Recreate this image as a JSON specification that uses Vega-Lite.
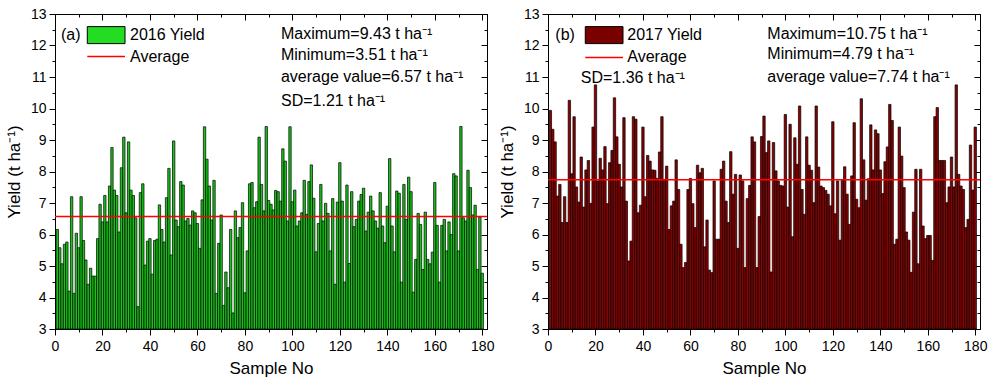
{
"$schema": "https://vega.github.io/schema/vega-lite/v6.json",
"padding": {"left": 4, "top": 6, "right": 5, "bottom": 2},
"spacing": 2,
"config": {
  "font": "Liberation Sans",
  "view": {"stroke": "#000", "strokeWidth": 1},
  "axis": {"domainColor": "#000", "domainWidth": 1, "tickColor": "#000", "tickWidth": 1, "labelColor": "#000", "titleColor": "#000", "grid": false, "labelFont": "Liberation Sans", "titleFont": "Liberation Sans", "titleFontWeight": "normal", "labelFontSize": 14, "titleFontSize": 17},
  "text": {"font": "Liberation Sans", "fontSize": 16, "align": "left", "baseline": "middle", "color": "#000"}
},
"hconcat": [
{
  "width": 432, "height": 315,
  "resolve": {"axis": {"x": "independent", "y": "independent"}},
  "layer": [
    {
      "data": {"values": [
{"s":1,"v":6.16},{"s":2,"v":5.58},{"s":3,"v":5.07},{"s":4,"v":5.69},{"s":5,"v":5.76},{"s":6,"v":4.2},{"s":7,"v":7.2},{"s":8,"v":4.13},{"s":9,"v":6.04},{"s":10,"v":5.58},
{"s":11,"v":7.2},{"s":12,"v":5.81},{"s":13,"v":5.19},{"s":14,"v":4.42},{"s":15,"v":4.93},{"s":16,"v":4.68},{"s":17,"v":4.68},{"s":18,"v":5.87},{"s":19,"v":6.96},{"s":20,"v":6.4},
{"s":21,"v":7.24},{"s":22,"v":6.4},{"s":23,"v":7.54},{"s":24,"v":8.76},{"s":25,"v":7.41},{"s":26,"v":7.24},{"s":27,"v":6.08},{"s":28,"v":8.12},{"s":29,"v":9.09},{"s":30,"v":6.69},
{"s":31,"v":8.94},{"s":32,"v":7.41},{"s":33,"v":7.24},{"s":34,"v":6.53},{"s":35,"v":3.71},{"s":36,"v":7.33},{"s":37,"v":7.61},{"s":38,"v":5.03},{"s":39,"v":5.79},{"s":40,"v":5.87},
{"s":41,"v":4.74},{"s":42,"v":5.81},{"s":43,"v":5.85},{"s":44,"v":6.94},{"s":45,"v":6.16},{"s":46,"v":5.76},{"s":47,"v":7.17},{"s":48,"v":8.1},{"s":49,"v":5.35},{"s":50,"v":8.97},
{"s":51,"v":6.46},{"s":52,"v":6.25},{"s":53,"v":7.68},{"s":54,"v":7.57},{"s":55,"v":6.43},{"s":56,"v":6.51},{"s":57,"v":6.3},{"s":58,"v":6.75},{"s":59,"v":6.69},{"s":60,"v":6.35},
{"s":61,"v":5.56},{"s":62,"v":7.1},{"s":63,"v":9.42},{"s":64,"v":8.39},{"s":65,"v":7.54},{"s":66,"v":6.46},{"s":67,"v":7.72},{"s":68,"v":4.13},{"s":69,"v":5.72},{"s":70,"v":6.62},
{"s":71,"v":3.75},{"s":72,"v":4.81},{"s":73,"v":4.31},{"s":74,"v":6.16},{"s":75,"v":3.51},{"s":76,"v":6.75},{"s":77,"v":5.9},{"s":78,"v":6.22},{"s":79,"v":7.01},{"s":80,"v":4.15},
{"s":81,"v":5.48},{"s":82,"v":7.61},{"s":83,"v":7.65},{"s":84,"v":6.85},{"s":85,"v":7.04},{"s":86,"v":9.09},{"s":87,"v":7.59},{"s":88,"v":6.75},{"s":89,"v":9.43},{"s":90,"v":7.08},
{"s":91,"v":6.96},{"s":92,"v":6.78},{"s":93,"v":7.4},{"s":94,"v":7.36},{"s":95,"v":7.06},{"s":96,"v":8.72},{"s":97,"v":8.33},{"s":98,"v":6.43},{"s":99,"v":9.42},{"s":100,"v":7.04},
{"s":101,"v":7.41},{"s":102,"v":6.27},{"s":103,"v":6.43},{"s":104,"v":6.69},{"s":105,"v":7.72},{"s":106,"v":6.64},{"s":107,"v":7.68},{"s":108,"v":8.21},{"s":109,"v":7.15},{"s":110,"v":5.45},
{"s":111,"v":6.35},{"s":112,"v":7.59},{"s":113,"v":6.43},{"s":114,"v":6.99},{"s":115,"v":6.67},{"s":116,"v":5.48},{"s":117,"v":7.14},{"s":118,"v":4.42},{"s":119,"v":7.03},{"s":120,"v":8.28},
{"s":121,"v":7.06},{"s":122,"v":4.49},{"s":123,"v":7.57},{"s":124,"v":5.08},{"s":125,"v":7.36},{"s":126,"v":6.25},{"s":127,"v":6.48},{"s":128,"v":7.06},{"s":129,"v":7.27},{"s":130,"v":7.47},
{"s":131,"v":6.11},{"s":132,"v":6.71},{"s":133,"v":7.22},{"s":134,"v":6.75},{"s":135,"v":6.43},{"s":136,"v":6.2},{"s":137,"v":7.33},{"s":138,"v":6.27},{"s":139,"v":5.74},{"s":140,"v":6.9},
{"s":141,"v":8.41},{"s":142,"v":6.27},{"s":143,"v":5.45},{"s":144,"v":7.38},{"s":145,"v":7.31},{"s":146,"v":4.49},{"s":147,"v":7.59},{"s":148,"v":6.48},{"s":149,"v":7.82},{"s":150,"v":7.36},
{"s":151,"v":4.17},{"s":152,"v":5.21},{"s":153,"v":6.67},{"s":154,"v":6.32},{"s":155,"v":4.89},{"s":156,"v":6.71},{"s":157,"v":5.21},{"s":158,"v":5.07},{"s":159,"v":5.44},{"s":160,"v":7.65},
{"s":161,"v":6.29},{"s":162,"v":4.49},{"s":163,"v":6.29},{"s":164,"v":6.48},{"s":165,"v":5.48},{"s":166,"v":6.4},{"s":167,"v":6.0},{"s":168,"v":7.93},{"s":169,"v":7.86},{"s":170,"v":5.48},
{"s":171,"v":9.43},{"s":172,"v":6.53},{"s":173,"v":6.43},{"s":174,"v":8.04},{"s":175,"v":7.49},{"s":176,"v":6.62},{"s":177,"v":6.93},{"s":178,"v":4.89},{"s":179,"v":6.56},{"s":180,"v":4.77}
      ]},
      "mark": {"type": "bar", "width": 2.37, "fill": "#19c419", "stroke": "#000", "strokeWidth": 0.7},
      "encoding": {
        "x": {"field": "s", "type": "quantitative", "scale": {"domain": [0, 182], "nice": false, "zero": false, "padding": 0},
              "axis": {"orient": "bottom", "values": [0,10,20,30,40,50,60,70,80,90,100,110,120,130,140,150,160,170,180], "labelExpr": "datum.value % 20 === 0 ? format(datum.value, 'd') : ''", "labelOverlap": false, "labelFlush": false, "tickSize": {"condition": {"test": "datum.value % 20 !== 0", "value": 3}, "value": 6}, "labelPadding": 4, "title": "Sample No", "titlePadding": 7}},
        "y": {"field": "v", "type": "quantitative", "scale": {"domain": [3, 13], "nice": false, "zero": false},
              "axis": {"orient": "left", "values": [3,3.5,4,4.5,5,5.5,6,6.5,7,7.5,8,8.5,9,9.5,10,10.5,11,11.5,12,12.5,13], "labelExpr": "datum.value % 1 === 0 ? format(datum.value, 'd') : ''", "labelOverlap": false, "labelFlush": false, "tickSize": {"condition": {"test": "datum.value % 1 !== 0", "value": 3}, "value": 6}, "labelPadding": 3, "title": "Yield (t ha⁻¹)", "titlePadding": 7}},
        "y2": {"datum": 3}
      }
    },
    {
      "data": {"values": [{"avg": 6.57}]},
      "mark": {"type": "rule", "color": "#ff0000", "strokeWidth": 1.5},
      "encoding": {
        "y": {"field": "avg", "type": "quantitative", "axis": {"orient": "right", "values": [3,3.5,4,4.5,5,5.5,6,6.5,7,7.5,8,8.5,9,9.5,10,10.5,11,11.5,12,12.5,13], "labels": false, "title": null, "tickSize": {"condition": {"test": "datum.value % 1 !== 0", "value": -3}, "value": -6}}},
        "x": {"datum": 0, "type": "quantitative", "axis": {"orient": "top", "values": [0,10,20,30,40,50,60,70,80,90,100,110,120,130,140,150,160,170,180], "labels": false, "title": null, "tickSize": {"condition": {"test": "datum.value % 20 !== 0", "value": -3}, "value": -6}}},
        "x2": {"datum": 182}
      }
    },
    {"data": {"values": [{}]}, "mark": {"type": "rect", "fill": "#22dd22", "stroke": "#000", "strokeWidth": 1},
     "encoding": {"x": {"datum": 13.6, "type": "quantitative", "axis": null}, "x2": {"datum": 29.5}, "y": {"datum": 12.6, "type": "quantitative", "axis": null}, "y2": {"datum": 12.06}}},
    {"data": {"values": [{}]}, "mark": {"type": "rule", "color": "#ff0000", "strokeWidth": 1.5},
     "encoding": {"x": {"datum": 13.6, "type": "quantitative", "axis": null}, "x2": {"datum": 29.5}, "y": {"datum": 11.65, "type": "quantitative", "axis": null}}},
    {"data": {"values": [{}]}, "mark": {"type": "text"},
     "encoding": {"x": {"datum": 2.5, "type": "quantitative", "axis": null}, "y": {"datum": 12.34, "type": "quantitative", "axis": null}, "text": {"value": "(a)"}}},
    {"data": {"values": [{}]}, "mark": {"type": "text"},
     "encoding": {"x": {"datum": 31.6, "type": "quantitative", "axis": null}, "y": {"datum": 12.34, "type": "quantitative", "axis": null}, "text": {"value": "2016 Yield"}}},
    {"data": {"values": [{}]}, "mark": {"type": "text"},
     "encoding": {"x": {"datum": 31.6, "type": "quantitative", "axis": null}, "y": {"datum": 11.64, "type": "quantitative", "axis": null}, "text": {"value": "Average"}}},
    {"data": {"values": [{}]}, "mark": {"type": "text"},
     "encoding": {"x": {"datum": 95.2, "type": "quantitative", "axis": null}, "y": {"datum": 12.37, "type": "quantitative", "axis": null}, "text": {"value": "Maximum=9.43 t ha⁻¹"}}},
    {"data": {"values": [{}]}, "mark": {"type": "text"},
     "encoding": {"x": {"datum": 95.2, "type": "quantitative", "axis": null}, "y": {"datum": 11.7, "type": "quantitative", "axis": null}, "text": {"value": "Minimum=3.51 t ha⁻¹"}}},
    {"data": {"values": [{}]}, "mark": {"type": "text"},
     "encoding": {"x": {"datum": 95.2, "type": "quantitative", "axis": null}, "y": {"datum": 11.01, "type": "quantitative", "axis": null}, "text": {"value": "average value=6.57 t ha⁻¹"}}},
    {"data": {"values": [{}]}, "mark": {"type": "text"},
     "encoding": {"x": {"datum": 95.2, "type": "quantitative", "axis": null}, "y": {"datum": 10.24, "type": "quantitative", "axis": null}, "text": {"value": "SD=1.21 t ha⁻¹"}}}
  ]
},
{
  "width": 432, "height": 315,
  "resolve": {"axis": {"x": "independent", "y": "independent"}},
  "layer": [
    {
      "data": {"values": [
{"s":1,"v":9.94},{"s":2,"v":9.34},{"s":3,"v":8.94},{"s":4,"v":7.22},{"s":5,"v":7.59},{"s":6,"v":6.38},{"s":7,"v":7.2},{"s":8,"v":6.38},{"s":9,"v":10.26},{"s":10,"v":7.93},
{"s":11,"v":9.74},{"s":12,"v":7.51},{"s":13,"v":7.03},{"s":14,"v":8.46},{"s":15,"v":6.87},{"s":16,"v":8.05},{"s":17,"v":8.35},{"s":18,"v":6.99},{"s":19,"v":9.41},{"s":20,"v":10.75},
{"s":21,"v":7.7},{"s":22,"v":8.42},{"s":23,"v":8.05},{"s":24,"v":8.79},{"s":25,"v":6.98},{"s":26,"v":8.28},{"s":27,"v":8.67},{"s":28,"v":10.34},{"s":29,"v":9.1},{"s":30,"v":8.23},
{"s":31,"v":7.51},{"s":32,"v":9.71},{"s":33,"v":7.06},{"s":34,"v":5.16},{"s":35,"v":5.79},{"s":36,"v":9.74},{"s":37,"v":9.66},{"s":38,"v":6.69},{"s":39,"v":6.93},{"s":40,"v":9.41},
{"s":41,"v":7.2},{"s":42,"v":8.51},{"s":43,"v":8.33},{"s":44,"v":8.05},{"s":45,"v":8.04},{"s":46,"v":7.78},{"s":47,"v":8.62},{"s":48,"v":9.74},{"s":49,"v":7.75},{"s":50,"v":8.17},
{"s":51,"v":6.16},{"s":52,"v":6.91},{"s":53,"v":7.06},{"s":54,"v":8.37},{"s":55,"v":7.43},{"s":56,"v":5.69},{"s":57,"v":4.95},{"s":58,"v":5.11},{"s":59,"v":7.43},{"s":60,"v":7.78},
{"s":61,"v":6.98},{"s":62,"v":6.22},{"s":63,"v":8.2},{"s":64,"v":7.96},{"s":65,"v":8.1},{"s":66,"v":5.61},{"s":67,"v":6.46},{"s":68,"v":4.87},{"s":69,"v":4.79},{"s":70,"v":7.7},
{"s":71,"v":5.85},{"s":72,"v":5.85},{"s":73,"v":8.07},{"s":74,"v":8.33},{"s":75,"v":7.06},{"s":76,"v":6.38},{"s":77,"v":8.63},{"s":78,"v":7.28},{"s":79,"v":7.91},{"s":80,"v":5.56},
{"s":81,"v":7.89},{"s":82,"v":7.7},{"s":83,"v":4.95},{"s":84,"v":7.14},{"s":85,"v":7.56},{"s":86,"v":9.1},{"s":87,"v":8.94},{"s":88,"v":4.95},{"s":89,"v":6.57},{"s":90,"v":9.11},
{"s":91,"v":9.76},{"s":92,"v":8.6},{"s":93,"v":8.97},{"s":94,"v":4.81},{"s":95,"v":8.92},{"s":96,"v":8.02},{"s":97,"v":7.7},{"s":98,"v":7.56},{"s":99,"v":7.54},{"s":100,"v":9.81},
{"s":101,"v":6.87},{"s":102,"v":9.5},{"s":103,"v":5.93},{"s":104,"v":9.07},{"s":105,"v":8.23},{"s":106,"v":10.08},{"s":107,"v":7.43},{"s":108,"v":6.64},{"s":109,"v":9.1},{"s":110,"v":8.2},
{"s":111,"v":8.04},{"s":112,"v":7.01},{"s":113,"v":10.08},{"s":114,"v":8.14},{"s":115,"v":7.54},{"s":116,"v":7.49},{"s":117,"v":7.4},{"s":118,"v":7.28},{"s":119,"v":6.91},{"s":120,"v":9.58},
{"s":121,"v":6.66},{"s":122,"v":7.7},{"s":123,"v":5.82},{"s":124,"v":7.72},{"s":125,"v":8.15},{"s":126,"v":7.28},{"s":127,"v":6.32},{"s":128,"v":7.86},{"s":129,"v":9.55},{"s":130,"v":7.12},
{"s":131,"v":6.85},{"s":132,"v":10.31},{"s":133,"v":8.37},{"s":134,"v":7.09},{"s":135,"v":7.77},{"s":136,"v":9.48},{"s":137,"v":8.05},{"s":138,"v":9.32},{"s":139,"v":9.2},{"s":140,"v":8.05},
{"s":141,"v":7.3},{"s":142,"v":8.31},{"s":143,"v":8.78},{"s":144,"v":10.13},{"s":145,"v":9.62},{"s":146,"v":5.69},{"s":147,"v":5.85},{"s":148,"v":9.41},{"s":149,"v":8.49},{"s":150,"v":7.49},
{"s":151,"v":6.08},{"s":152,"v":5.82},{"s":153,"v":4.8},{"s":154,"v":6.71},{"s":155,"v":8.07},{"s":156,"v":5.07},{"s":157,"v":8.07},{"s":158,"v":6.27},{"s":159,"v":5.87},{"s":160,"v":5.97},
{"s":161,"v":5.97},{"s":162,"v":5.18},{"s":163,"v":9.74},{"s":164,"v":10.03},{"s":165,"v":8.35},{"s":166,"v":8.35},{"s":167,"v":8.35},{"s":168,"v":7.01},{"s":169,"v":7.51},{"s":170,"v":8.46},
{"s":171,"v":7.51},{"s":172,"v":10.75},{"s":173,"v":7.91},{"s":174,"v":7.54},{"s":175,"v":7.43},{"s":176,"v":6.22},{"s":177,"v":6.48},{"s":178,"v":8.84},{"s":179,"v":7.41},{"s":180,"v":9.41}
      ]},
      "mark": {"type": "bar", "width": 2.37, "fill": "#8b0000", "stroke": "#000", "strokeWidth": 0.7},
      "encoding": {
        "x": {"field": "s", "type": "quantitative", "scale": {"domain": [0, 182], "nice": false, "zero": false, "padding": 0},
              "axis": {"orient": "bottom", "values": [0,10,20,30,40,50,60,70,80,90,100,110,120,130,140,150,160,170,180], "labelExpr": "datum.value % 20 === 0 ? format(datum.value, 'd') : ''", "labelOverlap": false, "labelFlush": false, "tickSize": {"condition": {"test": "datum.value % 20 !== 0", "value": 3}, "value": 6}, "labelPadding": 4, "title": "Sample No", "titlePadding": 7}},
        "y": {"field": "v", "type": "quantitative", "scale": {"domain": [3, 13], "nice": false, "zero": false},
              "axis": {"orient": "left", "values": [3,3.5,4,4.5,5,5.5,6,6.5,7,7.5,8,8.5,9,9.5,10,10.5,11,11.5,12,12.5,13], "labelExpr": "datum.value % 1 === 0 ? format(datum.value, 'd') : ''", "labelOverlap": false, "labelFlush": false, "tickSize": {"condition": {"test": "datum.value % 1 !== 0", "value": 3}, "value": 6}, "labelPadding": 3, "title": "Yield (t ha⁻¹)", "titlePadding": 7}},
        "y2": {"datum": 3}
      }
    },
    {
      "data": {"values": [{"avg": 7.74}]},
      "mark": {"type": "rule", "color": "#ff0000", "strokeWidth": 1.5},
      "encoding": {
        "y": {"field": "avg", "type": "quantitative", "axis": {"orient": "right", "values": [3,3.5,4,4.5,5,5.5,6,6.5,7,7.5,8,8.5,9,9.5,10,10.5,11,11.5,12,12.5,13], "labels": false, "title": null, "tickSize": {"condition": {"test": "datum.value % 1 !== 0", "value": -3}, "value": -6}}},
        "x": {"datum": 0, "type": "quantitative", "axis": {"orient": "top", "values": [0,10,20,30,40,50,60,70,80,90,100,110,120,130,140,150,160,170,180], "labels": false, "title": null, "tickSize": {"condition": {"test": "datum.value % 20 !== 0", "value": -3}, "value": -6}}},
        "x2": {"datum": 182}
      }
    },
    {"data": {"values": [{}]}, "mark": {"type": "rect", "fill": "#7a0000", "stroke": "#000", "strokeWidth": 1},
     "encoding": {"x": {"datum": 15.7, "type": "quantitative", "axis": null}, "x2": {"datum": 31.6}, "y": {"datum": 12.6, "type": "quantitative", "axis": null}, "y2": {"datum": 12.06}}},
    {"data": {"values": [{}]}, "mark": {"type": "rule", "color": "#ff0000", "strokeWidth": 1.5},
     "encoding": {"x": {"datum": 15.7, "type": "quantitative", "axis": null}, "x2": {"datum": 31.6}, "y": {"datum": 11.62, "type": "quantitative", "axis": null}}},
    {"data": {"values": [{}]}, "mark": {"type": "text"},
     "encoding": {"x": {"datum": 3.1, "type": "quantitative", "axis": null}, "y": {"datum": 12.34, "type": "quantitative", "axis": null}, "text": {"value": "(b)"}}},
    {"data": {"values": [{}]}, "mark": {"type": "text"},
     "encoding": {"x": {"datum": 33.4, "type": "quantitative", "axis": null}, "y": {"datum": 12.34, "type": "quantitative", "axis": null}, "text": {"value": "2017 Yield"}}},
    {"data": {"values": [{}]}, "mark": {"type": "text"},
     "encoding": {"x": {"datum": 33.4, "type": "quantitative", "axis": null}, "y": {"datum": 11.64, "type": "quantitative", "axis": null}, "text": {"value": "Average"}}},
    {"data": {"values": [{}]}, "mark": {"type": "text"},
     "encoding": {"x": {"datum": 13.8, "type": "quantitative", "axis": null}, "y": {"datum": 10.98, "type": "quantitative", "axis": null}, "text": {"value": "SD=1.36 t ha⁻¹"}}},
    {"data": {"values": [{}]}, "mark": {"type": "text"},
     "encoding": {"x": {"datum": 92.4, "type": "quantitative", "axis": null}, "y": {"datum": 12.37, "type": "quantitative", "axis": null}, "text": {"value": "Maximum=10.75 t ha⁻¹"}}},
    {"data": {"values": [{}]}, "mark": {"type": "text"},
     "encoding": {"x": {"datum": 92.4, "type": "quantitative", "axis": null}, "y": {"datum": 11.72, "type": "quantitative", "axis": null}, "text": {"value": "Minimum=4.79 t ha⁻¹"}}},
    {"data": {"values": [{}]}, "mark": {"type": "text"},
     "encoding": {"x": {"datum": 92.4, "type": "quantitative", "axis": null}, "y": {"datum": 11.0, "type": "quantitative", "axis": null}, "text": {"value": "average value=7.74 t ha⁻¹"}}}
  ]
}
]
}
